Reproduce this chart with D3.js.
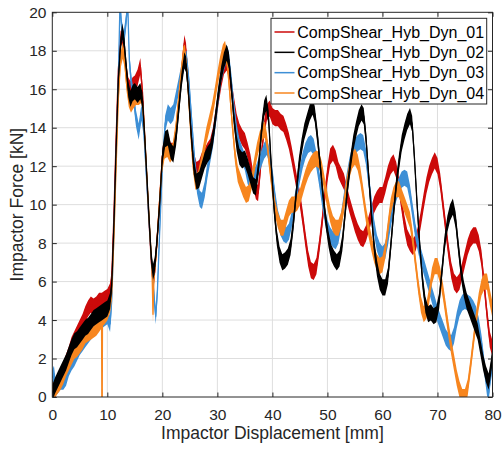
<!DOCTYPE html>
<html>
<head>
<meta charset="utf-8">
<script src="https://cdn.jsdelivr.net/npm/d3@7"></script>
<style>
  html, body { margin: 0; padding: 0; background: #ffffff; }
  svg { display: block; font-family: "Liberation Sans", Arial, Helvetica, sans-serif; }
</style>
</head>
<body>
<svg id="chart" width="502" height="449"></svg>
<script>
// Impactor force vs. displacement for four dynamic compression-shear tests.
// Each series: [displacement (mm), force (kN)].

const seriesNames = [
  "CompShear_Hyb_Dyn_01",
  "CompShear_Hyb_Dyn_02",
  "CompShear_Hyb_Dyn_03",
  "CompShear_Hyb_Dyn_04"
];

const seriesColors = ["#cc0a0a", "#000000", "#3d8fd6", "#f7861f"];

const xTicks = [0, 10, 20, 30, 40, 50, 60, 70, 80];
const yTicks = [0, 2, 4, 6, 8, 10, 12, 14, 16, 18, 20];

// half-width of the measurement noise band around each trace (kN)
const noiseAmp = 0.42;

const dyn01 = [
  [0,0.5],[0.5,0.3],[1,0.8],[1.5,1.0],[2,1.4],[2.5,1.8],[3,2.2],[3.5,2.7],[4,3.0],[4.5,3.3],
  [5,3.6],[5.5,3.9],[6,4.3],[6.5,4.6],[7,4.8],[7.5,4.7],[8,4.8],[8.5,5.0],[9,5.0],[9.5,5.1],
  [10,5.2],[10.5,5.5],[10.8,6.2],[11.2,9.5],[11.6,13.5],[12,17],[12.4,18.6],[12.7,18.8],[13,18.2],
  [13.4,17],[13.8,16.2],[14.2,16],[14.6,16.2],[15,16.3],[15.5,16.6],[16,17.2],[16.4,15.8],[16.8,13.5],
  [17.2,11.2],[17.6,9],[18,7],[18.3,6.0],[18.6,6.5],[19,8],[19.5,10.2],[20,12.5],[20.5,13.2],[21,13.3],
  [21.5,12.8],[22,12.8],[22.5,13.8],[23,15.3],[23.5,16.9],[24,18.4],[24.3,18.0],[24.7,16.3],[25.2,14],
  [25.7,12.3],[26.2,11.8],[26.7,11.9],[27.2,12.3],[27.7,12.5],[28.2,12.8],[28.7,13],[29.2,13.6],
  [29.7,14.6],[30.2,15.6],[30.7,16.5],[31.2,17.2],[31.7,17.4],[32.1,17],[32.5,16.2],[33,15.2],
  [33.5,14.3],[34,13.8],[34.5,13.5],[35,13.3],[35.5,12.8],[36,12.2],[36.5,11.3],[37,10.7],[37.4,10.6],
  [37.8,11.8],[38.2,13.2],[38.6,14.2],[39,14.8],[39.5,15],[40,14.6],[40.5,14.5],[41,14.5],[41.5,14.3],
  [42,14.2],[42.5,13.8],[43,13.3],[43.5,12.6],[44,11.8],[44.5,11],[45,10.3],[45.5,9.3],[46,8.2],
  [46.5,7.2],[47,6.6],[47.5,6.5],[48,6.8],[48.5,7.8],[49,9],[49.5,10.4],[50,11.6],[50.5,12.5],
  [51,12.7],[51.5,12.4],[52,11.8],[52.5,11.5],[53,11.2],[53.5,10.6],[54,10],[54.5,9.5],[55,9],
  [55.5,8.6],[56,8.3],[56.5,8.2],[57,8.5],[57.5,9],[58,9.5],[58.5,10],[59,10.3],[59.5,10.5],[60,10.5],
  [60.5,11],[61,11.6],[61.5,12],[62,12.2],[62.5,11.8],[63,11],[63.5,10],[64,9],[64.5,8.3],[65,8],
  [65.5,7.8],[66,8],[66.5,8.5],[67,9.3],[67.5,10.2],[68,11],[68.5,11.6],[69,12],[69.5,12.3],[70,12],
  [70.5,11.2],[71,10],[71.5,8.8],[72,7.6],[72.5,6.6],[73,6.0],[73.5,5.8],[74,6.0],[74.5,6.6],[75,7.2],
  [75.5,7.8],[76,8.2],[76.5,8.4],[77,8.4],[77.5,8.0],[78,7.2],[78.5,5.8],[79,4.3],[79.5,3.0],[80,2.5]
];

const dyn02 = [
  [0,0.2],[0.5,0.6],[1,0.9],[1.5,1.2],[2,1.5],[2.5,1.8],[3,2.2],[3.5,2.6],[4,2.9],[4.5,3.0],
  [5,3.2],[5.5,3.4],[6,3.6],[6.5,3.7],[7,3.9],[7.5,4.1],[8,4.2],[8.5,4.3],[9,4.4],[9.5,4.5],
  [10,4.6],[10.5,5.0],[10.8,5.8],[11.2,9],[11.6,13],[12,16.5],[12.4,18.3],[12.7,19.0],[13,18.6],
  [13.4,17.3],[13.8,16.0],[14.2,15.5],[14.6,15.8],[15,15.9],[15.5,15.7],[16,15.9],[16.4,15.4],
  [16.8,13.5],[17.2,11.4],[17.6,9.2],[18,7.2],[18.3,6.5],[18.6,6.8],[19,8],[19.5,10],[20,12.5],
  [20.5,13.4],[21,13.5],[21.5,12.8],[22,12.6],[22.5,13.5],[23,15],[23.5,16.5],[24,17.5],[24.3,17.3],
  [24.7,16],[25.2,13.8],[25.7,12],[26.2,11.2],[26.7,11.3],[27.2,11.8],[27.7,12.3],[28.2,12.6],
  [28.7,12.8],[29.2,13.5],[29.7,14.6],[30.2,15.8],[30.7,16.8],[31.2,17.5],[31.7,17.9],[32.1,17.5],
  [32.5,16.2],[33,14.5],[33.5,13.2],[34,12.5],[34.5,12.3],[35,12.4],[35.5,12.0],[36,11.5],[36.5,11.0],
  [37,10.9],[37.5,12],[38,13.8],[38.5,15],[38.9,15.3],[39.3,14.5],[39.8,12],[40.3,9.8],[40.8,8.3],
  [41.3,7.4],[41.8,7.0],[42.3,7.1],[42.8,7.3],[43.3,7.8],[43.8,9],[44.3,10.5],[44.8,12],[45.3,13],
  [45.8,13.8],[46.3,14.3],[46.8,14.8],[47.3,15.1],[47.7,14.7],[48.2,13.5],[48.7,12],[49.2,10.5],
  [49.7,9.2],[50.2,8.2],[50.7,7.5],[51.2,7.2],[51.7,7.0],[52.2,7.2],[52.7,8],[53.2,9.5],[53.7,11],
  [54.2,12.2],[54.7,13.2],[55.2,13.9],[55.7,14.5],[56.2,14.8],[56.6,14.6],[57,13.5],[57.5,11.5],
  [58,9.5],[58.5,7.8],[59,6.7],[59.5,6.0],[60,5.7],[60.5,5.7],[61,6.3],[61.5,7.8],[62,9.5],[62.5,11],
  [63,12.2],[63.5,13.2],[64,13.8],[64.5,14.3],[65,14.6],[65.4,14.2],[65.8,12.5],[66.3,10],[66.8,7.8],
  [67.3,6],[67.8,4.8],[68.3,4.3],[68.8,4.4],[69.3,4.2],[69.8,4.3],[70.3,5],[70.8,6.5],[71.3,8],
  [71.8,9],[72.3,9.6],[72.8,9.9],[73.3,9.2],[73.8,7.8],[74.3,6.5],[74.8,5.6],[75.3,5.0],[75.8,4.6],
  [76.3,4.2],[76.8,3.8],[77.3,3.4],[77.8,2.6],[78.3,1.8],[78.8,1.2],[79.3,0.8],[79.7,1.5],[80,2.2]
];

const dyn03 = [
  [0,1.0],[0.3,1.2],[0.6,0.5],[1,0.6],[1.5,0.8],[2,0.8],[2.5,1.0],[3,1.5],[3.5,1.8],[4,2.0],
  [4.5,2.3],[5,2.6],[5.5,2.8],[6,3.0],[6.5,3.2],[7,3.4],[7.5,3.6],[8,3.7],[8.5,3.9],[9,4.0],
  [9.5,4.1],[10,4.2],[10.5,3.8],[10.8,5.0],[11.2,8.5],[11.6,12.5],[12,16.5],[12.3,20.5],[12.6,19.2],
  [13,18.6],[13.4,19.5],[13.7,20.5],[14,17.5],[14.4,16.2],[14.8,15.5],[15.2,14.5],[15.7,13.8],
  [16.2,14.8],[16.6,14],[17,12],[17.5,9.5],[18,7.2],[18.5,5.2],[18.8,4.2],[19.1,5.5],[19.5,8.5],
  [20,12],[20.5,14.2],[21,14.8],[21.5,14.6],[22,14.8],[22.5,15.5],[23,16.2],[23.5,16.9],[24,17.5],
  [24.4,17.6],[24.8,16.5],[25.3,14.5],[25.8,12.5],[26.3,11],[26.8,10.3],[27.2,10.2],[27.7,10.8],
  [28.2,11.8],[28.7,12.6],[29.2,13.4],[29.7,14.5],[30.2,15.7],[30.7,16.8],[31.2,17.4],[31.7,17.9],
  [32.1,17.5],[32.5,16.5],[33,15],[33.5,13.8],[34,13],[34.5,12.6],[35,12.2],[35.5,11.5],[36,11.2],
  [36.5,11.4],[37,11.6],[37.5,12],[38,12.4],[38.5,12.8],[39,13],[39.5,12.5],[40,11.5],[40.5,10.3],
  [41,9.3],[41.5,8.8],[42,8.5],[42.5,8.4],[43,8.6],[43.5,9.2],[44,10],[44.5,10.8],[45,11.6],
  [45.5,12.3],[46,12.8],[46.5,13.1],[47,13.2],[47.5,13],[48,12.3],[48.5,11.4],[49,10.4],[49.5,9.5],
  [50,8.8],[50.5,8.4],[51,8.2],[51.5,8.1],[52,8.4],[52.5,9.2],[53,10.2],[53.5,11.2],[54,12],
  [54.5,12.6],[55,13],[55.5,13.2],[56,13.3],[56.5,13.2],[57,12.5],[57.5,11.3],[58,10],[58.5,8.8],
  [59,8],[59.5,7.6],[60,7.4],[60.5,7.6],[61,8.3],[61.5,9.2],[62,10],[62.5,10.6],[63,11],[63.5,11.3],
  [64,11.4],[64.5,11.3],[65,10.6],[65.5,9.6],[66,8.6],[66.5,7.9],[67,7.3],[67.5,6.8],[68,6.3],
  [68.5,5.8],[69,5.3],[69.5,4.8],[70,4.3],[70.5,3.9],[71,3.5],[71.5,3.1],[72,2.9],[72.5,2.8],
  [73,3.2],[73.5,4.0],[74,4.6],[74.5,4.9],[75,5.0],[75.5,4.9],[76,4.8],[76.5,4.6],[77,4.3],
  [77.5,3.7],[78,2.8],[78.5,1.6],[79,0.5],[79.3,0.2],[79.6,1.0],[80,1.8]
];

const dyn04 = [
  [0,0.3],[0.5,0.4],[1,0.6],[1.5,0.8],[2,1.1],[2.5,1.5],[3,1.8],[3.5,2.1],[4,2.4],[4.5,2.5],
  [5,2.7],[5.5,2.9],[6,3.2],[6.5,3.3],[7,3.4],[7.5,3.5],[8,3.6],[8.5,3.8],[8.95,4.0],[9.0,0],
  [9.08,0],[9.12,4.1],[9.5,4.2],[10,4.4],[10.5,4.8],[10.8,5.4],[11.2,8.3],[11.6,12],[12,15.5],
  [12.4,17.5],[12.8,18.0],[13.1,17.6],[13.5,16.3],[13.9,15.5],[14.3,15.2],[14.7,15.4],[15.2,15.6],
  [15.7,15.6],[16.2,15.7],[16.6,14.6],[17,12.5],[17.4,10.3],[17.8,8.2],[18.1,6.8],[18.3,4.3],
  [18.5,6.4],[18.9,7.5],[19.4,9.8],[19.9,12],[20.4,12.8],[20.9,12.9],[21.4,12.6],[21.9,12.8],
  [22.4,13.8],[22.9,15.3],[23.4,16.8],[23.8,17.8],[24.1,17.9],[24.5,16.8],[25,14.5],[25.5,12.3],
  [26,11.2],[26.5,11.3],[27,12],[27.5,12.8],[28,13.6],[28.5,14.2],[29,14.8],[29.5,15.6],[30,16.5],
  [30.5,17.3],[31,17.9],[31.4,18.1],[31.8,17.4],[32.2,16],[32.7,14.2],[33.2,12.6],[33.7,11.6],
  [34.2,11.2],[34.7,10.8],[35.2,10.5],[35.7,10.6],[36.2,11.2],[36.7,12],[37.2,12.8],[37.7,13.4],
  [38.2,13.8],[38.6,13.9],[39,13.3],[39.5,12],[40,10.8],[40.5,9.8],[41,9.2],[41.5,8.8],[42,8.8],
  [42.5,9.3],[43,9.8],[43.5,10],[44,10],[44.5,10.1],[45,10.4],[45.5,10.9],[46,11.4],[46.5,11.8],
  [47,12.1],[47.5,12.3],[48,12.4],[48.5,12.3],[49,11.8],[49.5,11],[50,10.2],[50.5,9.5],[51,9],
  [51.5,8.8],[52,8.8],[52.5,9.2],[53,10],[53.5,11],[54,11.8],[54.5,12.3],[55,12.5],[55.5,12.2],
  [56,11.5],[56.5,10.5],[57,9.5],[57.5,8.7],[58,8],[58.5,7.4],[59,7],[59.5,6.8],[60,6.9],[60.5,7.6],
  [61,8.8],[61.5,9.9],[62,10.5],[62.5,10.8],[63,10.8],[63.5,10.4],[64,10],[64.5,9.6],[65,9.2],
  [65.5,8.2],[66,7],[66.5,5.8],[67,4.8],[67.5,4.3],[68,4.5],[68.5,5.3],[69,6.3],[69.5,6.8],[70,6.8],
  [70.5,6.3],[71,5.5],[71.5,4.5],[72,3.5],[72.5,2.6],[73,1.8],[73.5,1.0],[74,0.4],[74.5,0],[75,0],
  [75.5,0.5],[76,1.6],[76.5,2.8],[77,4],[77.5,5],[78,5.7],[78.5,6.0],[79,6.0],[79.5,5.2],[80,4.5]
];

const seriesData = [dyn01, dyn02, dyn03, dyn04];
// drawing order: black trace on top
const drawOrder = [0, 2, 3, 1];

const svg = d3.select("#chart");
const plot = { left: 52.3, right: 492.5, top: 12.3, bottom: 397 };
const axisColor = "#262626";

const x = d3.scaleLinear().domain([0, 80]).range([plot.left, plot.right]);
const y = d3.scaleLinear().domain([0, 20]).range([plot.bottom, plot.top]);

// grid
const grid = svg.append("g").attr("stroke", "#dedede").attr("stroke-width", 1);
grid.selectAll(".gx").data(xTicks.slice(1, -1)).join("line")
  .attr("x1", d => x(d)).attr("x2", d => x(d))
  .attr("y1", plot.top).attr("y2", plot.bottom);
grid.selectAll(".gy").data(yTicks.slice(1, -1)).join("line")
  .attr("x1", plot.left).attr("x2", plot.right)
  .attr("y1", d => y(d)).attr("y2", d => y(d));

// data traces, clipped to the axes box
svg.append("clipPath").attr("id", "plotClip")
  .append("rect")
  .attr("x", plot.left).attr("y", plot.top)
  .attr("width", plot.right - plot.left).attr("height", plot.bottom - plot.top);

const traces = svg.append("g").attr("clip-path", "url(#plotClip)");

const band = d3.area()
  .x(d => x(d[0]))
  .y0(d => y(d[1] - noiseAmp))
  .y1(d => y(d[1] + noiseAmp));
const line = d3.line().x(d => x(d[0])).y(d => y(d[1]));

drawOrder.forEach(i => {
  const g = traces.append("g");
  g.append("path").datum(seriesData[i])
    .attr("d", band)
    .attr("fill", seriesColors[i])
    .attr("stroke", "none");
  g.append("path").datum(seriesData[i])
    .attr("d", line)
    .attr("fill", "none")
    .attr("stroke", seriesColors[i])
    .attr("stroke-width", 1.3)
    .attr("stroke-linejoin", "round");
});

// axes with inward ticks on all four sides
const tickFont = 15.5;
const tickLen = 4.5;

const gx = svg.append("g").attr("transform", `translate(0,${plot.bottom})`)
  .call(d3.axisBottom(x).tickValues(xTicks).tickFormat(d3.format("d"))
    .tickSizeInner(-tickLen).tickSizeOuter(0).tickPadding(11.5));
const gy = svg.append("g").attr("transform", `translate(${plot.left},0)`)
  .call(d3.axisLeft(y).tickValues(yTicks).tickFormat(d3.format("d"))
    .tickSizeInner(-tickLen).tickSizeOuter(0).tickPadding(5.8));
const gxt = svg.append("g").attr("transform", `translate(0,${plot.top})`)
  .call(d3.axisTop(x).tickValues(xTicks).tickFormat("")
    .tickSizeInner(-tickLen).tickSizeOuter(0));
const gyr = svg.append("g").attr("transform", `translate(${plot.right},0)`)
  .call(d3.axisRight(y).tickValues(yTicks).tickFormat("")
    .tickSizeInner(-tickLen).tickSizeOuter(0));

[gx, gy, gxt, gyr].forEach(g => {
  g.select(".domain").remove();
  g.selectAll("line").attr("stroke", axisColor).attr("stroke-width", 1);
  g.selectAll("text")
    .attr("fill", axisColor)
    .style("font-size", tickFont + "px")
    .style("font-family", '"Liberation Sans", Arial, sans-serif');
});

// axes box
svg.append("rect")
  .attr("x", plot.left).attr("y", plot.top)
  .attr("width", plot.right - plot.left).attr("height", plot.bottom - plot.top)
  .attr("fill", "none").attr("stroke", axisColor).attr("stroke-width", 1);

// axis titles
svg.append("text")
  .attr("x", (plot.left + plot.right) / 2).attr("y", 439)
  .attr("text-anchor", "middle")
  .attr("fill", axisColor)
  .style("font-size", "17.5px")
  .text("Impactor Displacement [mm]");

svg.append("text")
  .attr("transform", `translate(23,${(plot.top + plot.bottom) / 2}) rotate(-90)`)
  .attr("text-anchor", "middle")
  .attr("fill", axisColor)
  .style("font-size", "17.5px")
  .text("Impactor Force [kN]");

// legend
const legend = svg.append("g");
legend.append("rect")
  .attr("x", 271).attr("y", 18.3)
  .attr("width", 215.7).attr("height", 85.7)
  .attr("fill", "#ffffff").attr("stroke", axisColor).attr("stroke-width", 1);

const rowY = d3.scaleLinear().domain([0, 3]).range([32, 93]);
seriesNames.forEach((name, i) => {
  legend.append("line")
    .attr("x1", 274.5).attr("x2", 294.5)
    .attr("y1", rowY(i)).attr("y2", rowY(i))
    .attr("stroke", seriesColors[i]).attr("stroke-width", 1.5);
  legend.append("text")
    .attr("x", 297.3).attr("y", rowY(i))
    .attr("dy", "0.35em")
    .attr("fill", "#000000")
    .style("font-size", "16px")
    .text(name);
});
</script>
</body>
</html>
